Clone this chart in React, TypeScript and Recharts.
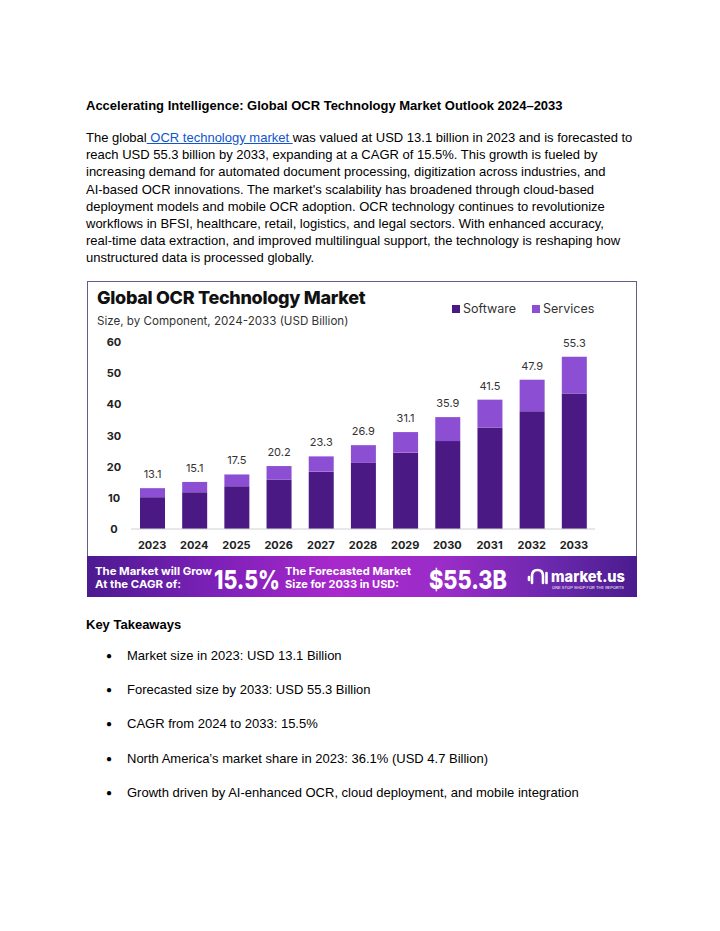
import React from 'react';
import { BarChart, Bar, XAxis, YAxis, LabelList } from 'recharts';

const years = ['2023', '2024', '2025', '2026', '2027', '2028', '2029', '2030', '2031', '2032', '2033'];
const software = [10.2, 11.8, 13.7, 15.8, 18.4, 21.2, 24.5, 28.2, 32.6, 37.8, 43.5];
const services = [2.9, 3.3, 3.8, 4.4, 4.9, 5.7, 6.6, 7.7, 8.9, 10.1, 11.8];
const totals = [13.1, 15.1, 17.5, 20.2, 23.3, 26.9, 31.1, 35.9, 41.5, 47.9, 55.3];
const yTicks = [0, 10, 20, 30, 40, 50, 60];
const seriesNames = ['Software', 'Services'];

const data = years.map((y, i) => ({ year: y, Software: software[i], Services: services[i], total: totals[i] }));

const SOFT = '#4b1983';
const SERV = '#8c4fd4';
const seriesColors = [SOFT, SERV];
const docFont = '"Liberation Sans", Arial, sans-serif';
const chartFont = 'Inter, "Noto Sans", sans-serif';

const paraLines = [
  null,
  'reach USD 55.3 billion by 2033, expanding at a CAGR of 15.5%. This growth is fueled by',
  'increasing demand for automated document processing, digitization across industries, and',
  "AI-based OCR innovations. The market's scalability has broadened through cloud-based",
  'deployment models and mobile OCR adoption. OCR technology continues to revolutionize',
  'workflows in BFSI, healthcare, retail, logistics, and legal sectors. With enhanced accuracy,',
  'real-time data extraction, and improved multilingual support, the technology is reshaping how',
  'unstructured data is processed globally.',
];

const bullets = [
  'Market size in 2023: USD 13.1 Billion',
  'Forecasted size by 2033: USD 55.3 Billion',
  'CAGR from 2024 to 2033: 15.5%',
  'North America\u2019s market share in 2023: 36.1% (USD 4.7 Billion)',
  'Growth driven by AI-enhanced OCR, cloud deployment, and mobile integration',
];

const YTick = (props: any) => {
  const { y, payload } = props;
  return (
    <text x={27} y={y} dy={4} textAnchor="middle" fontSize={11} fontWeight={700} fill="#222" fontFamily={chartFont}>
      {payload.value}
    </text>
  );
};

const abs = (left: number, top: number, extra: any = {}) => ({ position: 'absolute' as const, left, top, whiteSpace: 'pre' as const, ...extra });

export default function App() {
  return (
    <div style={{ position: 'absolute', left: 0, top: 0, width: 720, height: 931, background: '#fff', overflow: 'hidden', fontFamily: docFont, color: '#000' }}>
      <div style={abs(86, 97, { fontSize: 13, fontWeight: 700, lineHeight: '17px' })}>
        Accelerating Intelligence: Global OCR Technology Market Outlook 2024–2033
      </div>
      {paraLines.map((l, i) => (
        <div key={i} style={abs(86, 129 + i * 17.2, { fontSize: 13, lineHeight: '17px' })}>
          {l === null ? (
            <span>
              The global<span style={{ color: '#1155cc', textDecoration: 'underline' }}> OCR technology market </span>was valued at USD 13.1 billion in 2023 and is forecasted to
            </span>
          ) : (
            l
          )}
        </div>
      ))}

      {/* chart card */}
      <div style={{ position: 'absolute', left: 87, top: 281, width: 550, height: 316, boxSizing: 'border-box', border: '1px solid #6a5a8c' }} />
      <div style={abs(97, 287, { fontFamily: chartFont, fontWeight: 800, fontSize: 18, color: '#111', letterSpacing: -0.3, lineHeight: '22px' })}>
        Global OCR Technology Market
      </div>
      <div style={abs(97, 313, { fontFamily: chartFont, fontSize: 11.6, color: '#333', lineHeight: '16px' })}>
        Size, by Component, 2024-2033 (USD Billion)
      </div>
      {/* legend */}
      {seriesNames.map((n, i) => (
        <div key={n} style={abs(452 + i * 80, 301, { fontFamily: chartFont, fontSize: 12.5, color: '#333', lineHeight: '16px' })}>
          <span style={{ display: 'inline-block', width: 8, height: 8, background: seriesColors[i], marginRight: 3, verticalAlign: 0 }} />
          {n}
        </div>
      ))}
      <div style={{ position: 'absolute', left: 87, top: 281 }}>
        <BarChart width={550} height={316} data={data} margin={{ top: 61, right: 42, bottom: 38, left: 0 }}>
          <XAxis
            dataKey="year"
            axisLine={{ stroke: '#d0d0d0' }}
            tickLine={false}
            tickSize={0}
            tickMargin={12}
            interval={0}
            height={30}
            tick={{ fontSize: 11, fontWeight: 700, fill: '#222', fontFamily: chartFont }}
          />
          <YAxis
            width={44}
            domain={[0, 60]}
            ticks={yTicks}
            axisLine={false}
            tickLine={false}
            tick={<YTick />}
          />
          <Bar dataKey="Software" stackId="a" fill={SOFT} barSize={25} isAnimationActive={false} />
          <Bar dataKey="Services" stackId="a" fill={SERV} barSize={25} isAnimationActive={false}>
            <LabelList dataKey="total" position="top" offset={10} style={{ fontSize: 11, fill: '#333', fontFamily: chartFont }} />
          </Bar>
        </BarChart>
      </div>

      {/* banner */}
      <svg style={{ position: 'absolute', left: 87, top: 556 }} width={550} height={41}>
        <defs>
          <linearGradient id="bn" x1="0" y1="0" x2="1" y2="0">
            <stop offset="0" stopColor="#4c1a90" />
            <stop offset="0.22" stopColor="#7a20b6" />
            <stop offset="0.45" stopColor="#a828cc" />
            <stop offset="0.65" stopColor="#9a2cc8" />
            <stop offset="0.85" stopColor="#6a28ac" />
            <stop offset="1" stopColor="#4a1c8e" />
          </linearGradient>
        </defs>
        <rect x={0} y={0} width={550} height={41} fill="url(#bn)" />
        <g fill="#fff" fontFamily={chartFont} fontWeight={700}>
          <text x={8} y={19} fontSize={11} textLength={117} lengthAdjust="spacingAndGlyphs">The Market will Grow</text>
          <text x={8} y={32} fontSize={11} textLength={86} lengthAdjust="spacingAndGlyphs">At the CAGR of:</text>
          <text x={127} y={33} fontSize={26} fontWeight={800} textLength={66} lengthAdjust="spacingAndGlyphs">15.5%</text>
          <text x={198} y={19} fontSize={11} textLength={126} lengthAdjust="spacingAndGlyphs">The Forecasted Market</text>
          <text x={198} y={32} fontSize={11} textLength={114} lengthAdjust="spacingAndGlyphs">Size for 2033 in USD:</text>
          <text x={342} y={33} fontSize={26} fontWeight={800} textLength={78} lengthAdjust="spacingAndGlyphs">$55.3B</text>
          <text x={464} y={26} fontSize={15} fontWeight={800} textLength={74} lengthAdjust="spacingAndGlyphs">market.us</text>
          <text x={465} y={32.5} fontSize={4} fontWeight={400} textLength={72} lengthAdjust="spacingAndGlyphs">ONE STOP SHOP FOR THE REPORTS</text>
        </g>
        {/* logo mark */}
        <g fill="none" stroke="#fff" strokeWidth={2.6} strokeLinecap="round">
          <path d="M445 27 L445 20 Q445 14 450.5 14 Q456 14 456 20 L456 27" />
          <line x1={442} y1={21} x2={442} y2={24} />
          <line x1={459.5} y1={17} x2={459.5} y2={27} />
        </g>
      </svg>

      <div style={abs(86, 616, { fontSize: 13, fontWeight: 700, lineHeight: '17px' })}>Key Takeaways</div>
      {bullets.map((b, i) => (
        <div key={i} style={abs(106, 647 + i * 34.2, { fontSize: 13, lineHeight: '17px' })}>
          <span style={{ fontSize: 10, position: 'relative', top: -1 }}>{'\u25CF'}</span>
          <span style={{ position: 'absolute', left: 21 }}>{b}</span>
        </div>
      ))}
    </div>
  );
}
